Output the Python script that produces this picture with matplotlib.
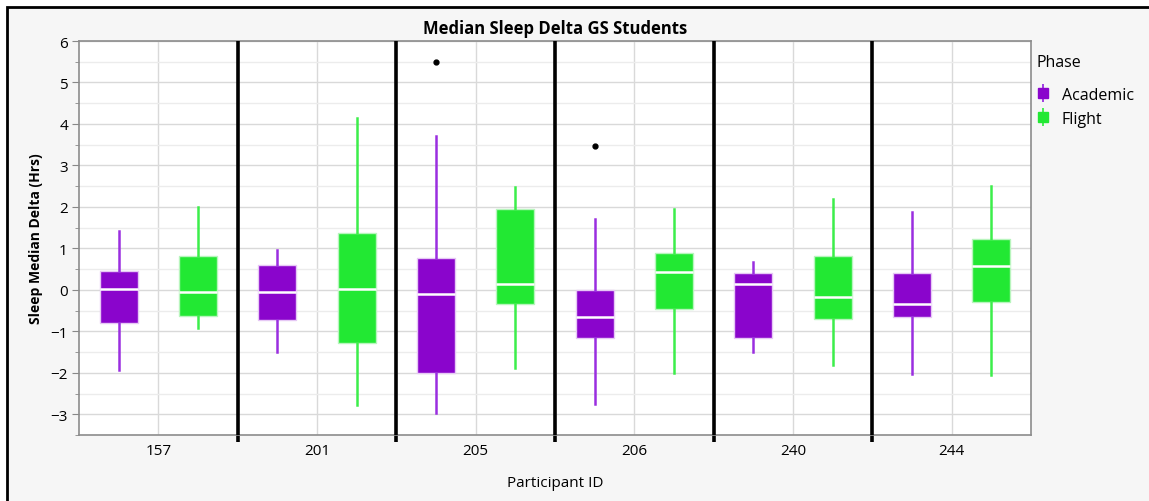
import matplotlib
matplotlib.use('Agg')
import matplotlib.pyplot as plt
from matplotlib.lines import Line2D
from matplotlib.patches import Rectangle

plt.rcParams['font.family'] = ['Open Sans', 'DejaVu Sans']

participants = ['157', '201', '205', '206', '240', '244']
phases = ['Academic', 'Flight']

# five-number summaries: low whisker, q1, median, q3, high whisker
academic_lo = [-1.94, -1.51, -2.97, -2.75, -1.51, -2.04]
academic_q1 = [-0.81, -0.72, -2.00, -1.17, -1.17, -0.65]
academic_med = [0.03, -0.06, -0.11, -0.65, 0.13, -0.33]
academic_q3 = [0.46, 0.60, 0.77, -0.01, 0.40, 0.40]
academic_hi = [1.43, 0.96, 3.70, 1.71, 0.68, 1.87]
academic_out = [[], [], [5.49], [3.46], [], []]

flight_lo = [-0.92, -2.78, -1.89, -2.00, -1.81, -2.05]
flight_q1 = [-0.64, -1.29, -0.35, -0.47, -0.71, -0.30]
flight_med = [-0.06, 0.03, 0.14, 0.42, -0.17, 0.57]
flight_q3 = [0.82, 1.36, 1.95, 0.88, 0.82, 1.22]
flight_hi = [1.99, 4.15, 2.49, 1.95, 2.19, 2.51]
flight_out = [[], [], [], [], [], []]

purple = '#8a05cc'
purple_line = '#9a2ee0'
green = '#22e833'
green_line = '#3cee4a'


def make_stats(lo, q1, med, q3, hi, out):
    return [dict(whislo=a, q1=b, med=c, q3=d, whishi=e, fliers=f)
            for a, b, c, d, e, f in zip(lo, q1, med, q3, hi, out)]


fig = plt.figure(figsize=(11.49, 5.02), dpi=100)
fig.patch.set_facecolor('white')
fig.add_artist(Rectangle((7 / 1149, -0.05), 1.2, 1 - 8 / 502 + 0.05,
                         transform=fig.transFigure, facecolor='#f6f6f6',
                         edgecolor='black', linewidth=2, zorder=-10))

ax = fig.add_axes([79 / 1149, 66 / 502, (1031 - 79) / 1149, (436 - 42) / 502])
ax.set_facecolor('white')

groups = list(range(len(participants)))
pos_a = [g - 0.25 for g in groups]
pos_f = [g + 0.25 for g in groups]

sets = [
    (make_stats(academic_lo, academic_q1, academic_med, academic_q3, academic_hi, academic_out),
     pos_a, purple, purple_line, '#e6c8f5'),
    (make_stats(flight_lo, flight_q1, flight_med, flight_q3, flight_hi, flight_out),
     pos_f, green, green_line, '#b8f5bd'),
]
for stats, pos, fc, lc, ec in sets:
    ax.bxp(stats, positions=pos, widths=0.24, patch_artist=True, showcaps=False,
           boxprops=dict(facecolor=fc, edgecolor=ec, linewidth=1),
           whiskerprops=dict(color=lc, linewidth=1.8),
           medianprops=dict(color='white', linewidth=1.8),
           flierprops=dict(marker='o', markerfacecolor='black', markeredgecolor='black', markersize=3.5),
           zorder=3)

ax.set_xlim(-0.5, len(participants) - 0.5)
ax.set_ylim(-3.5, 6)

# separators between participants
for g in groups[:-1]:
    ax.axvline(g + 0.5, color='black', linewidth=2.6, zorder=4)

ax.set_xticks(groups)
ax.set_xticklabels(participants, fontsize=11)
ax.set_xticks([g + 0.5 for g in groups[:-1]], minor=True)
ax.tick_params(axis='x', which='major', length=0, pad=6)
ax.tick_params(axis='x', which='minor', length=5, width=2.6, color='black')

ax.set_yticks(range(-3, 7))
ax.set_yticks([v + 0.5 for v in range(-4, 6)], minor=True)
ax.tick_params(axis='y', which='major', labelsize=11, length=5, color='#888888', pad=3)
ax.tick_params(axis='y', which='minor', length=3, color='#888888')

ax.grid(True, which='major', axis='both', color='#d9d9d9', linewidth=1, zorder=0)
ax.grid(True, which='minor', axis='y', color='#ececec', linewidth=1, zorder=0)
ax.set_axisbelow(True)

for s in ax.spines.values():
    s.set_color('#8c8c8c')
    s.set_linewidth(1.2)

ax.set_ylabel('Sleep Median Delta (Hrs)', fontsize=10, fontweight='bold', labelpad=5)
ax.set_xlabel('Participant ID', fontsize=11, labelpad=12)
ax.set_title('Median Sleep Delta GS Students', fontsize=12, fontweight='bold', pad=6)

handles = [
    (Line2D([], [], color=purple_line, marker='|', linestyle='none', markersize=13, markeredgewidth=1.3),
     Line2D([], [], color=purple, marker='s', linestyle='none', markersize=7)),
    (Line2D([], [], color=green_line, marker='|', linestyle='none', markersize=13, markeredgewidth=1.3),
     Line2D([], [], color=green, marker='s', linestyle='none', markersize=7)),
]
leg = fig.legend(handles, phases, title='Phase', loc='upper left',
                 bbox_to_anchor=(1033 / 1149, 1 - 52 / 502), frameon=False,
                 fontsize=11.5, title_fontsize=11.5, handlelength=0.8,
                 handletextpad=0.8, labelspacing=0.5, borderaxespad=0, borderpad=0.2)
leg._legend_box.align = 'left'
leg._legend_box.sep = 12

fig.savefig('out.png', dpi=100, facecolor=fig.get_facecolor())
